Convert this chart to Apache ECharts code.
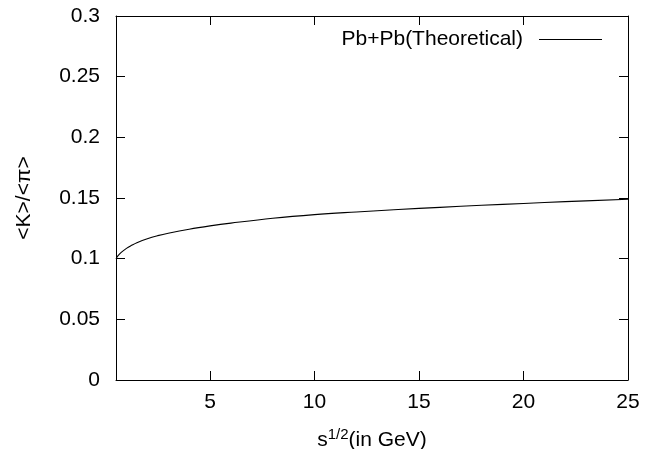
<!DOCTYPE html>
<html>
<head>
<meta charset="utf-8">
<script src="https://cdn.jsdelivr.net/npm/echarts@6/dist/echarts.min.js"></script>
<style>
  html, body { margin: 0; padding: 0; background: #fff; }
  #chart { width: 661px; height: 449px; }
</style>
</head>
<body>
<div id="chart"></div>
<script>
// values
const energy = [0.5, 0.6, 0.75, 1, 1.25, 1.5, 2, 2.5, 3, 4, 5, 6, 8, 10, 12, 14, 16, 18, 20, 22, 25]
const ratio = [0.100, 0.1025, 0.1052, 0.1085, 0.111, 0.1132, 0.1165, 0.119, 0.121, 0.1243, 0.127,
  0.1293, 0.1333, 0.1363, 0.1385, 0.1405, 0.1423, 0.144, 0.1455, 0.147, 0.149]
const xTicks = [5, 10, 15, 20, 25]

const FONT = 'Liberation Sans'
const FS = 21
const points = energy.map(function (x, i) { return [x, ratio[i]] })

function xAxisDef(pos, showLabel) {
  return {
    type: 'value', position: pos, min: 0.5, max: 25,
    axisLine: { show: true, onZero: false, lineStyle: { color: '#000', width: 1 } },
    axisTick: { show: true, inside: true, length: 9, customValues: xTicks, lineStyle: { color: '#000' } },
    axisLabel: { show: showLabel, customValues: xTicks, color: '#000', fontFamily: FONT, fontSize: FS, margin: 12 },
    splitLine: { show: false }
  }
}

function yAxisDef(pos, showLabel) {
  return {
    type: 'value', position: pos, min: 0, max: 0.3, interval: 0.05,
    axisLine: { show: true, onZero: false, lineStyle: { color: '#000', width: 1 } },
    axisTick: { show: true, inside: true, length: 9, lineStyle: { color: '#000' } },
    axisLabel: { show: showLabel, color: '#000', fontFamily: FONT, fontSize: FS, margin: 16 },
    splitLine: { show: false }
  }
}

const chart = echarts.init(document.getElementById('chart'))
const xBottom = xAxisDef('bottom', true)
xBottom.name = '{b|s}{sup|1/2}{b|(in GeV)}'
xBottom.nameLocation = 'middle'
xBottom.nameGap = 47
xBottom.nameTextStyle = {
  rich: {
    b: { fontFamily: FONT, fontSize: FS, color: '#000' },
    sup: { fontFamily: FONT, fontSize: 15, color: '#000', verticalAlign: 'top', padding: [0, 0, 12, 0] }
  }
}
const yLeft = yAxisDef('left', true)
yLeft.name = '<K>/<π>'
yLeft.nameLocation = 'middle'
yLeft.nameGap = 81
yLeft.nameTextStyle = { fontFamily: FONT, fontSize: FS, color: '#000' }

chart.setOption({
  animation: false,
  grid: { left: 116, right: 33, top: 16, bottom: 69, outerBoundsMode: 'none' },
  legend: {
    right: 59, top: 29, align: 'right', padding: 0,
    itemWidth: 63, itemHeight: 1, itemGap: 10,
    icon: 'rect',
    textStyle: { fontFamily: FONT, fontSize: FS, color: '#000', padding: [0, 11, 0, 0] },
    data: [{ name: 'Pb+Pb(Theoretical)', itemStyle: { color: '#000' } }]
  },
  xAxis: [xBottom, xAxisDef('top', false)],
  yAxis: [yLeft, yAxisDef('right', false)],
  series: [{
    name: 'Pb+Pb(Theoretical)',
    type: 'line',
    data: points,
    smooth: 0.4,
    showSymbol: false,
    lineStyle: { color: '#000', width: 1.1 },
    itemStyle: { color: '#000' }
  }]
})
</script>
</body>
</html>
